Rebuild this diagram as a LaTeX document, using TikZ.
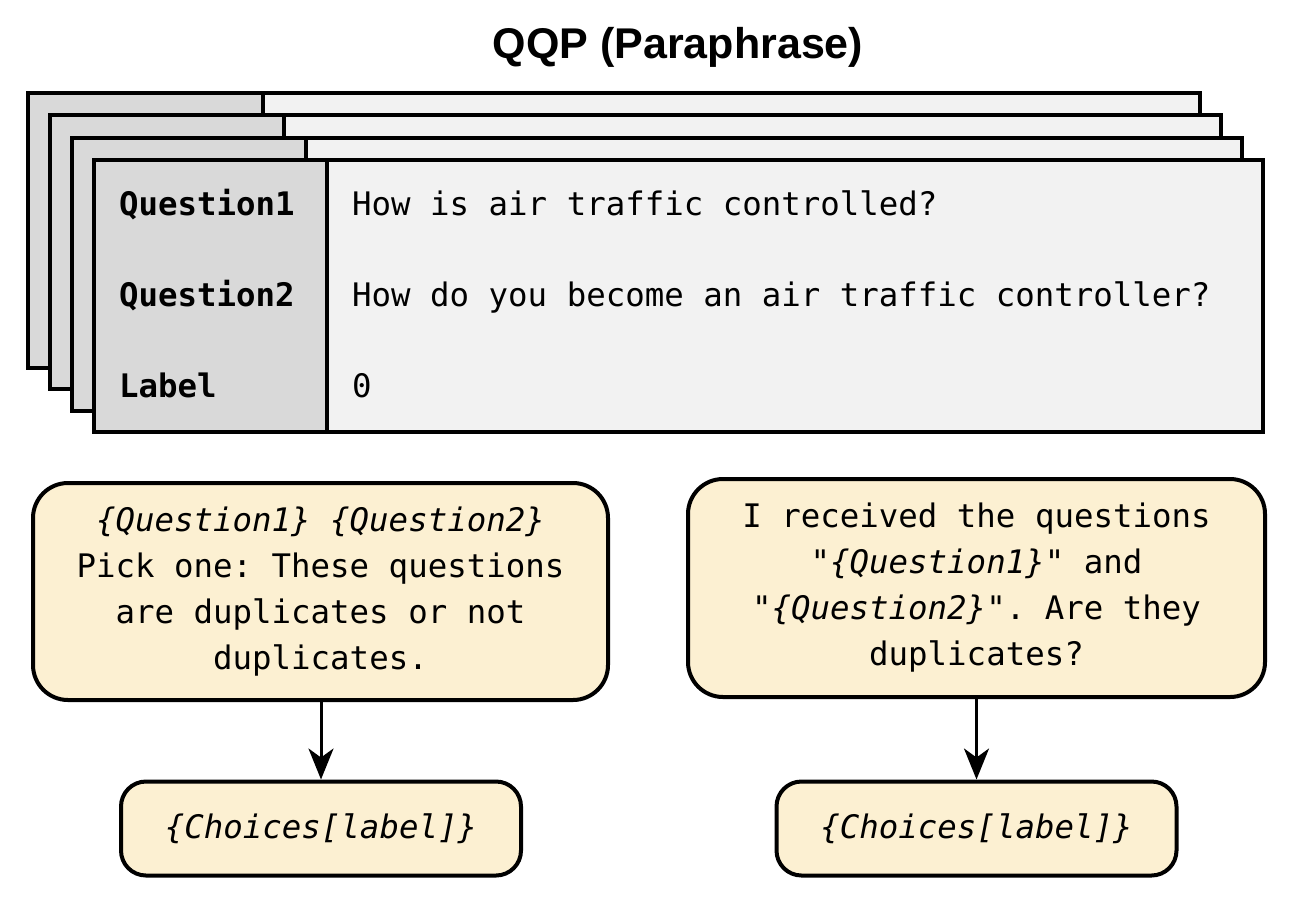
\documentclass[tikz,border=0pt]{standalone}
\usepackage{fontspec}
\setmainfont{Liberation Sans}
\setmonofont{DejaVu Sans Mono}
\usetikzlibrary{arrows.meta}
\definecolor{labgray}{HTML}{D9D9D9}
\definecolor{valgray}{HTML}{F2F2F2}
\definecolor{promptyel}{HTML}{FCF0D2}
\newcommand{\monosz}{\fontsize{32.4}{46}\selectfont\ttfamily}
\newcommand{\ph}[1]{\textit{#1}}
\tikzset{
  cardline/.style={line width=4pt, line join=miter},
  rowlabel/.style={anchor=base west, inner sep=0pt, font=\monosz\bfseries},
  rowvalue/.style={anchor=base west, inner sep=0pt, font=\monosz},
  promptbox/.style={draw, line width=4pt, fill=promptyel, rounded corners=35pt, align=center, font=\monosz, inner sep=0pt},
  choicebox/.style={draw, line width=4pt, fill=promptyel, rounded corners=25pt, align=center, font=\monosz, inner sep=0pt},
  flow/.style={line width=3pt, -{Stealth[length=31pt,width=25pt,inset=9pt]}}
}
\begin{document}
\begin{tikzpicture}[x=1pt,y=-1pt]
\useasboundingbox (0,0) rectangle (1298,898);
% title
\node[font=\fontsize{43}{50}\selectfont\bfseries] (title) at (678,47) {QQP (Paraphrase)};
% stacked cards
\foreach \i in {0,1,2,3}{
  \pgfmathsetmacro{\ox}{28+22*\i}
  \pgfmathsetmacro{\oy}{93+22.3*\i}
  \pgfmathsetmacro{\dx}{263+21.3*\i}
  \pgfmathsetmacro{\rx}{1200+21*\i}
  \pgfmathsetmacro{\by}{368+21.3*\i}
  \fill[valgray] (\dx,\oy) rectangle (\rx,\by);
  \fill[labgray] (\ox,\oy) rectangle (\dx,\by);
  \draw[cardline] (\ox,\oy) rectangle (\rx,\by);
  \draw[cardline] (\dx,\oy) -- (\dx,\by);
}
% rows
\node[rowlabel] (l1) at (119,215) {Question1};
\node[rowlabel] (l2) at (119,306) {Question2};
\node[rowlabel] (l3) at (119,397) {Label};
\node[rowvalue] (v1) at (352,215) {How is air traffic controlled?};
\node[rowvalue] (v2) at (352,306) {How do you become an air traffic controller?};
\node[rowvalue] (v3) at (352,397) {0};
% prompts
\node[promptbox, minimum width=575pt, minimum height=217pt] (p1) at (320.5,591.5)
  {\ph{\{Question1\}} \ph{\{Question2\}}\\Pick one: These questions\\are duplicates or not\\duplicates.};
\node[promptbox, minimum width=577pt, minimum height=218pt] (p2) at (976.5,588)
  {I received the questions\\"\ph{\{Question1\}}" and\\"\ph{\{Question2\}}". Are they\\duplicates?};
\node[choicebox, minimum width=400pt, minimum height=94pt] (c1) at (321,828.5) {\ph{\{Choices[label]\}}};
\node[choicebox, minimum width=400pt, minimum height=94pt] (c2) at (976.5,828.5) {\ph{\{Choices[label]\}}};
\draw[flow] (p1.south -| c1.north) -- (c1.north);
\draw[flow] (p2.south -| c2.north) -- (c2.north);
\end{tikzpicture}
\end{document}
